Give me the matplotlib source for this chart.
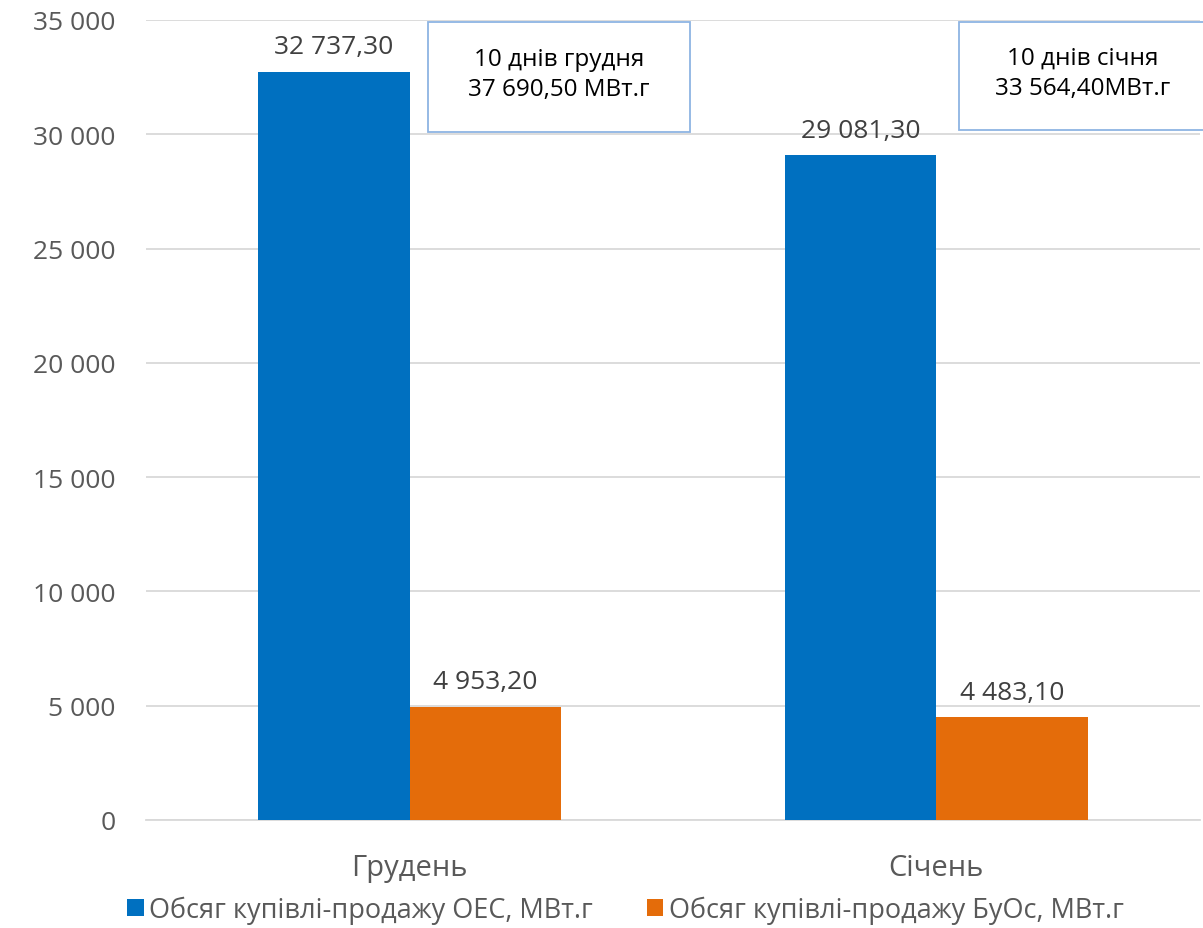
import matplotlib.pyplot as plt
from matplotlib.patches import Rectangle
from matplotlib.ticker import FuncFormatter

plt.rcParams['font.family'] = ['Open Sans', 'DejaVu Sans']

months = ["Грудень", "Січень"]
oes = [32737.30, 29081.30]
buos = [4953.20, 4483.10]
series_names = ["Обсяг купівлі-продажу ОЕС, МВт.г", "Обсяг купівлі-продажу БуОс, МВт.г"]
box_texts = ["10 днів грудня\n37 690,50 МВт.г", "10 днів січня\n33 564,40МВт.г"]

blue = "#0070c0"
orange = "#e46c0a"

fig = plt.figure(figsize=(12.03, 9.29), dpi=100)
ax = fig.add_axes([0.1214, 0.1163, 0.876, 0.8611])

w = 0.288
x = range(len(months))
b1 = ax.bar([i - w / 2 for i in x], oes, width=w, color=blue, label=series_names[0], zorder=3)
b2 = ax.bar([i + w / 2 for i in x], buos, width=w, color=orange, label=series_names[1], zorder=3)

def fmt_val(v):
    s = f"{v:,.2f}".replace(",", " ").replace(".", ",")
    return s

for bars in (b1, b2):
    for r in bars:
        ax.text(r.get_x() + r.get_width() / 2, r.get_height() + 550, fmt_val(r.get_height()),
                ha="center", va="bottom", fontsize=19, color="#404040")

ax.set_xlim(-0.5, 1.5)
ax.set_ylim(0, 35000)
ax.set_yticks(range(0, 35001, 5000))
ax.yaxis.set_major_formatter(FuncFormatter(lambda v, p: f"{int(v):,}".replace(",", " ")))
ax.set_xticks(list(x))
ax.set_xticklabels(months, fontsize=21, color="#595959")
ax.tick_params(axis="y", labelsize=19, labelcolor="#595959", length=0, pad=22)
ax.tick_params(axis="x", length=0, pad=24)
ax.grid(axis="y", color="#d9d9d9", linewidth=1.3, zorder=0)
for s in ["left", "right", "top"]:
    ax.spines[s].set_visible(False)
ax.spines["bottom"].set_color("#d9d9d9")
ax.spines["bottom"].set_linewidth(1.3)

# text boxes
boxes = [(0.2676, 0.86, 0.2484, 0.1375, 0.392), (0.7714, 0.8625, 0.26, 0.135, 0.889)]
for (bx, by, bw, bh, tx), t in zip(boxes, box_texts):
    ax.add_patch(Rectangle((bx, by), bw, bh, transform=ax.transAxes, facecolor="white",
                           edgecolor="#8eb4e3", linewidth=1.3, zorder=4, clip_on=False))
    ax.text(tx, by + bh / 2 + 0.004, t, transform=ax.transAxes, ha="center", va="center",
            fontsize=17.5, color="black", linespacing=1.35, zorder=5)

fig.legend(handles=[b1, b2], loc="lower center", bbox_to_anchor=(0.52, -0.022), ncol=2,
           frameon=False, fontsize=19.5, labelcolor="#595959", handlelength=0.6, handleheight=0.6,
           handletextpad=0.2, columnspacing=2.0)

plt.savefig("out.png", dpi=100)
